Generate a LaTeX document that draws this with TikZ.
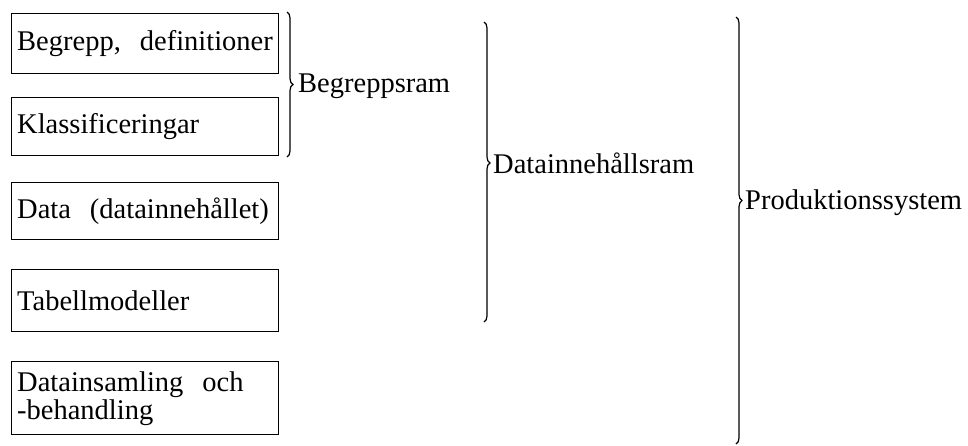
\documentclass[tikz,border=0pt]{standalone}
\usepackage{fontspec}
\setmainfont{Liberation Serif}
\usetikzlibrary{decorations.pathreplacing}
\begin{document}
\begin{tikzpicture}[x=1pt,y=-1pt,
  every node/.style={font=\fontsize{28.5}{28}\selectfont},
  box/.style={draw,line width=1.4pt,anchor=north west,minimum width=267pt,text width=256pt,align=left,inner xsep=5.5pt,inner ysep=0pt},
  grp/.style={draw,line width=1.2pt,decorate,decoration={brace,amplitude=6pt,aspect=#1}},
  grp/.default=0.5,
  lbl/.style={anchor=west,inner sep=0pt}]
\useasboundingbox (0,0) rectangle (968,445);
\node[box,minimum height=60pt] (b1) at (11,13) {Begrepp,\ \ definitioner};
\node[box,minimum height=58pt] (b2) at (11,97) {Klassificeringar};
\node[box,minimum height=57pt] (b3) at (11,182) {Data\ \ (datainnehållet)};
\node[box,minimum height=62pt] (b4) at (11,269) {Tabellmodeller};
\node[box,minimum height=73pt] (b5) at (11,361) {Datainsamling\ \ och\\-behandling};
% brace endpoints
\coordinate (r1a) at (287,12);
\coordinate (r1b) at (287,157);
\coordinate (r2a) at (484,22);
\coordinate (r2b) at (484,322);
\coordinate (r3a) at (736,17);
\coordinate (r3b) at (736,444);
\draw[grp] (r1a) -- (r1b);
\draw[grp=0.47] (r2a) -- (r2b);
\draw[grp=0.43] (r3a) -- (r3b);
\node[lbl] (l1) at (298,86) {Begreppsram};
\node[lbl] (l2) at (493,163) {Datainnehållsram};
\node[lbl] (l3) at (745,203) {Produktionssystem};
\end{tikzpicture}
\end{document}
